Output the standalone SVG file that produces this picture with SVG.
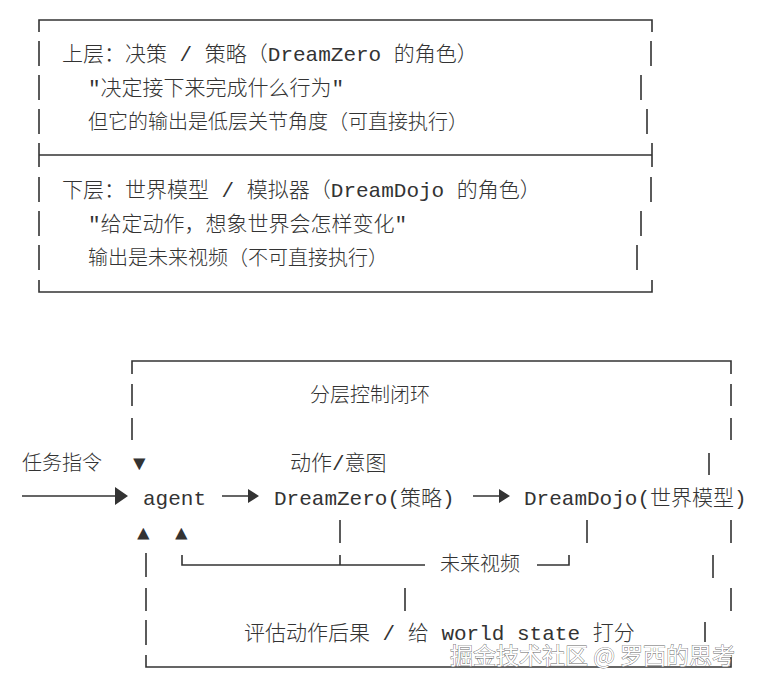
<svg xmlns="http://www.w3.org/2000/svg" width="765" height="686" viewBox="0 0 765 686">
<style>
text{font-family:"Liberation Mono","Noto Sans CJK SC",monospace;font-size:21px;fill:#333;font-weight:300}
.c{font-family:"Noto Sans CJK SC","Liberation Mono",sans-serif;font-size:20px}
.l{stroke:#333;stroke-width:1.6;fill:none}
.wm{font-family:"Noto Sans CJK SC",sans-serif;font-size:23px;fill:#fff;stroke:#666;stroke-width:0.8;paint-order:stroke;font-weight:400}
</style>
<rect width="765" height="686" fill="#fff"/>
<g id="top-box">
<path class="l" d="M39 32V20H652V32M39 41V66M39 75V100M39 109V134M39 143V167M39 155H652M652 143V167M39 177V202M39 211V236M39 245V270M39 280V292H652V280M651 41V66M641 75V100M647 109V134M651 177V202M641 211V236M637 245V270"/>
<text x="62" y="61">上层：决策 / 策略（DreamZero 的角色）</text>
<text x="88" y="95">"决定接下来完成什么行为"</text>
<text x="88" y="129" class="c">但它的输出是低层关节角度（可直接执行）</text>
<text x="62" y="197">下层：世界模型 / 模拟器（DreamDojo 的角色）</text>
<text x="88" y="231">"给定动作，想象世界会怎样变化"</text>
<text x="88" y="265" class="c">输出是未来视频（不可直接执行）</text>
</g>
<g id="connectors">
<path class="l" d="M132 374V361H731V374M132 384V406M132 418V440M731 384V406M731 418V440M709 453V475M22 496H115M340 520V543M587 520V543M731 520V543M146 553V577M146 588V611M146 620V645M146 655V667H731V655M182 555V565H425M340 555V565M537 565H569V555M713 555V578M405 588V611M731 588V611M705 622V642M222 496H248M473 496H499"/>
<path d="M115 487L128 496L115 505Z M248 489L259 496L248 503Z M499 489L510 496L499 503Z" fill="#333"/>
</g>
<g id="labels">
<text x="310" y="402" class="c">分层控制闭环</text>
<text x="22" y="470" class="c">任务指令</text>
<text x="133" y="470">▼</text>
<text x="290" y="470">动作/意图</text>
<text x="143" y="505">agent</text>
<text x="274" y="505">DreamZero(策略)</text>
<text x="524" y="505">DreamDojo(世界模型)</text>
<text x="137" y="540">▲</text>
<text x="175" y="540">▲</text>
<text x="440" y="571" class="c">未来视频</text>
<text x="244" y="640">评估动作后果 / 给 world state 打分</text>
</g>
<text x="450" y="664" class="wm">掘金技术社区 @ 罗西的思考</text>
</svg>
